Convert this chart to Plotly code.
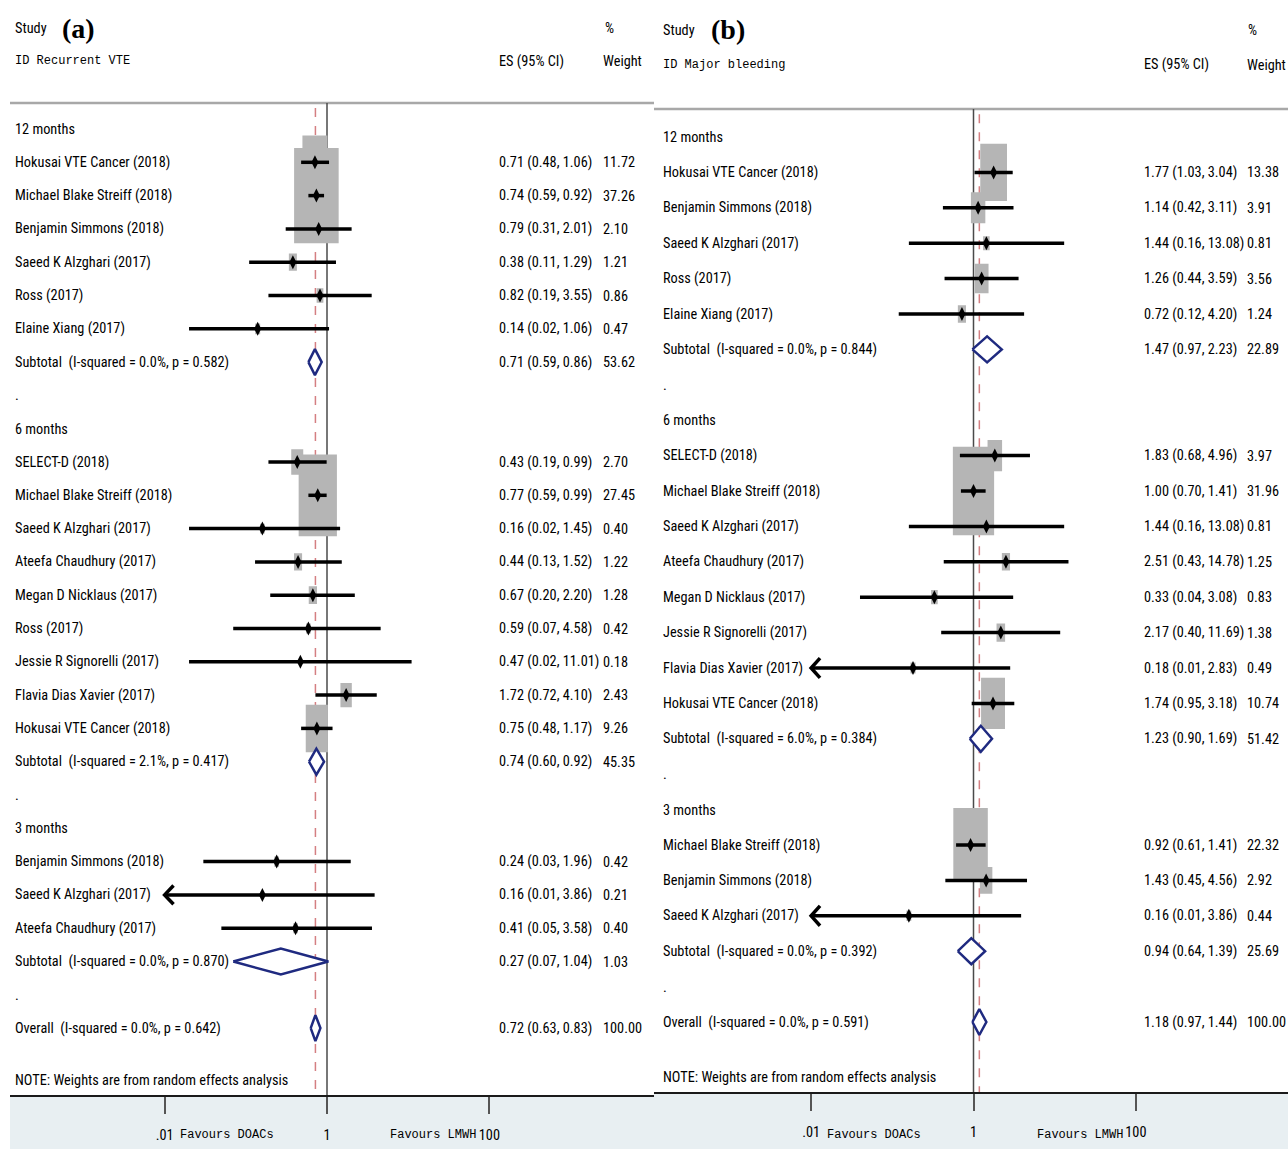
import math
import plotly.graph_objects as go

# ---------------- DATA : panel (a) Recurrent VTE ----------------
A_groups = ["12 months", "6 months", "3 months"]
A_group_of = [0, 0, 0, 0, 0, 0,
              1, 1, 1, 1, 1, 1, 1, 1, 1,
              2, 2, 2]
A_study = ["Hokusai VTE Cancer (2018)", "Michael Blake Streiff (2018)", "Benjamin Simmons (2018)",
           "Saeed K Alzghari (2017)", "Ross (2017)", "Elaine Xiang (2017)",
           "SELECT-D (2018)", "Michael Blake Streiff (2018)", "Saeed K Alzghari (2017)",
           "Ateefa Chaudhury (2017)", "Megan D Nicklaus (2017)", "Ross (2017)",
           "Jessie R Signorelli (2017)", "Flavia Dias Xavier (2017)", "Hokusai VTE Cancer (2018)",
           "Benjamin Simmons (2018)", "Saeed K Alzghari (2017)", "Ateefa Chaudhury (2017)"]
A_es = [0.71, 0.74, 0.79, 0.38, 0.82, 0.14,
        0.43, 0.77, 0.16, 0.44, 0.67, 0.59, 0.47, 1.72, 0.75,
        0.24, 0.16, 0.41]
A_lci = [0.48, 0.59, 0.31, 0.11, 0.19, 0.02,
         0.19, 0.59, 0.02, 0.13, 0.20, 0.07, 0.02, 0.72, 0.48,
         0.03, 0.01, 0.05]
A_uci = [1.06, 0.92, 2.01, 1.29, 3.55, 1.06,
         0.99, 0.99, 1.45, 1.52, 2.20, 4.58, 11.01, 4.10, 1.17,
         1.96, 3.86, 3.58]
A_wt = [11.72, 37.26, 2.10, 1.21, 0.86, 0.47,
        2.70, 27.45, 0.40, 1.22, 1.28, 0.42, 0.18, 2.43, 9.26,
        0.42, 0.21, 0.40]
A_sub_es = [0.71, 0.74, 0.27]
A_sub_lci = [0.59, 0.60, 0.07]
A_sub_uci = [0.86, 0.92, 1.04]
A_sub_wt = [53.62, 45.35, 1.03]
A_sub_i2 = [0.0, 2.1, 0.0]
A_sub_p = [0.582, 0.417, 0.870]
A_overall = [0.72, 0.63, 0.83, 100.00]   # es, lci, uci, weight
A_overall_i2, A_overall_p = 0.0, 0.642

# ---------------- DATA : panel (b) Major bleeding ----------------
B_groups = ["12 months", "6 months", "3 months"]
B_group_of = [0, 0, 0, 0, 0,
              1, 1, 1, 1, 1, 1, 1, 1,
              2, 2, 2]
B_study = ["Hokusai VTE Cancer (2018)", "Benjamin Simmons (2018)", "Saeed K Alzghari (2017)",
           "Ross (2017)", "Elaine Xiang (2017)",
           "SELECT-D (2018)", "Michael Blake Streiff (2018)", "Saeed K Alzghari (2017)",
           "Ateefa Chaudhury (2017)", "Megan D Nicklaus (2017)", "Jessie R Signorelli (2017)",
           "Flavia Dias Xavier (2017)", "Hokusai VTE Cancer (2018)",
           "Michael Blake Streiff (2018)", "Benjamin Simmons (2018)", "Saeed K Alzghari (2017)"]
B_es = [1.77, 1.14, 1.44, 1.26, 0.72,
        1.83, 1.00, 1.44, 2.51, 0.33, 2.17, 0.18, 1.74,
        0.92, 1.43, 0.16]
B_lci = [1.03, 0.42, 0.16, 0.44, 0.12,
         0.68, 0.70, 0.16, 0.43, 0.04, 0.40, 0.01, 0.95,
         0.61, 0.45, 0.01]
B_uci = [3.04, 3.11, 13.08, 3.59, 4.20,
         4.96, 1.41, 13.08, 14.78, 3.08, 11.69, 2.83, 3.18,
         1.41, 4.56, 3.86]
B_wt = [13.38, 3.91, 0.81, 3.56, 1.24,
        3.97, 31.96, 0.81, 1.25, 0.83, 1.38, 0.49, 10.74,
        22.32, 2.92, 0.44]
B_sub_es = [1.47, 1.23, 0.94]
B_sub_lci = [0.97, 0.90, 0.64]
B_sub_uci = [2.23, 1.69, 1.39]
B_sub_wt = [22.89, 51.42, 25.69]
B_sub_i2 = [0.0, 6.0, 0.0]
B_sub_p = [0.844, 0.384, 0.392]
B_overall = [1.18, 0.97, 1.44, 100.00]
B_overall_i2, B_overall_p = 0.0, 0.591

TICK_VALS = [0.01, 1, 100]
TICK_TEXT = [".01", "1", "100"]
X_MIN = 0.01

# ---------------- STYLE / LAYOUT ----------------
W, H = 1288, 1149
NARROW = "Liberation Sans Narrow, Arial Narrow, Roboto Condensed, Liberation Sans, Arial, sans-serif"
MONO = "Liberation Mono, Courier New, DejaVu Sans Mono, monospace"
SERIF = "Liberation Serif, Times New Roman, serif"
FS = 14.3
BOX_K = 7.3        # px per sqrt(weight)
BOX_RATIO = 2.14   # box height / width
GRAY = "#b5b5b5"
NAVY = "#1f2a80"


def P(px):
    return px / W


def Q(py):
    return 1 - py / H


panels = [
    dict(xa="x", ya="y", xaxis="xaxis", yaxis="yaxis", null_px=327.0, dec_px=81.2, row0=129.0, rowpx=33.3,
         left=10.0, right=654.0, axis_py=1095.0, hline_py=103.0, name_px=13.0, es_px=497.0, wt_px=601.0,
         pct_px=603.0, letter="(a)", letter_px=60.0, outcome="ID Recurrent VTE",
         groups=A_groups, group_of=A_group_of, study=A_study, es=A_es, lci=A_lci, uci=A_uci, wt=A_wt,
         sub_es=A_sub_es, sub_lci=A_sub_lci, sub_uci=A_sub_uci, sub_wt=A_sub_wt, sub_i2=A_sub_i2, sub_p=A_sub_p,
         overall=A_overall, ov_i2=A_overall_i2, ov_p=A_overall_p),
    dict(xa="x2", ya="y2", xaxis="xaxis2", yaxis="yaxis2", null_px=973.5, dec_px=81.2, row0=137.0, rowpx=35.4,
         left=654.0, right=1288.0, axis_py=1092.0, hline_py=109.0, name_px=661.0, es_px=1142.0, wt_px=1245.0,
         pct_px=1246.0, letter="(b)", letter_px=709.0, outcome="ID Major bleeding",
         groups=B_groups, group_of=B_group_of, study=B_study, es=B_es, lci=B_lci, uci=B_uci, wt=B_wt,
         sub_es=B_sub_es, sub_lci=B_sub_lci, sub_uci=B_sub_uci, sub_wt=B_sub_wt, sub_i2=B_sub_i2, sub_p=B_sub_p,
         overall=B_overall, ov_i2=B_overall_i2, ov_p=B_overall_p),
]

fig = go.Figure()
annotations = []
shapes = []
layout_axes = {}


def ann(text, px, row, ya, size=FS, family=NARROW, xanchor="left", bold=False):
    annotations.append(dict(text=("<b>%s</b>" % text) if bold else text, x=P(px), xref="paper",
                            y=row, yref=ya, xanchor=xanchor, yanchor="middle", showarrow=False,
                            font=dict(family=family, size=size, color="black")))


for pn in panels:
    xa, ya = pn["xa"], pn["ya"]
    rowpx = pn["rowpx"]
    to_row = lambda py, pn=pn: (py - pn["row0"]) / pn["rowpx"]
    y_bottom = to_row(pn["axis_py"])
    y_top = to_row(0)
    hdr_row = to_row(pn["hline_py"])

    # ---- build row structure ----
    row = 0
    study_rows = [None] * len(pn["study"])
    sub_rows = []
    for g, gname in enumerate(pn["groups"]):
        ann(gname, pn["name_px"], row, ya)
        row += 1
        for i, gi in enumerate(pn["group_of"]):
            if gi == g:
                study_rows[i] = row
                row += 1
        sub_rows.append(row)
        row += 1
        ann(".", pn["name_px"], row, ya)
        row += 1
    ov_row = row

    # ---- reference lines ----
    fig.add_trace(go.Scatter(x=[1, 1], y=[hdr_row, y_bottom], mode="lines",
                             line=dict(color="#4a4a4a", width=1.5), xaxis=xa, yaxis=ya,
                             hoverinfo="skip", showlegend=False))
    ov_es, ov_l, ov_u, ov_w = pn["overall"]
    fig.add_trace(go.Scatter(x=[ov_es, ov_es], y=[hdr_row + 0.15, y_bottom], mode="lines",
                             line=dict(color="#d47f82", width=1.5, dash="dash"), xaxis=xa, yaxis=ya,
                             hoverinfo="skip", showlegend=False))

    # ---- weight boxes ----
    bx, by = [], []
    for i in range(len(pn["study"])):
        wpx = BOX_K * math.sqrt(pn["wt"][i])
        hd = wpx / 2 / pn["dec_px"]
        hr = BOX_RATIO * wpx / 2 / rowpx
        e, r = pn["es"][i], study_rows[i]
        x0, x1 = e * 10 ** (-hd), e * 10 ** hd
        bx += [x0, x1, x1, x0, x0, None]
        by += [r - hr, r - hr, r + hr, r + hr, r - hr, None]
    fig.add_trace(go.Scatter(x=bx, y=by, mode="lines", fill="toself", fillcolor=GRAY,
                             line=dict(width=0, color=GRAY), xaxis=xa, yaxis=ya,
                             hoverinfo="skip", showlegend=False))

    # ---- CI lines and arrows ----
    lx, ly, ax_, ay_ = [], [], [], []
    for i in range(len(pn["study"])):
        r = study_rows[i]
        lo = max(pn["lci"][i], X_MIN)
        lx += [lo, pn["uci"][i], None]
        ly += [r, r, None]
        if pn["lci"][i] <= X_MIN:
            ax_ += [X_MIN * 10 ** 0.11, X_MIN, X_MIN * 10 ** 0.11, None]
            ay_ += [r - 0.28, r, r + 0.28, None]
    fig.add_trace(go.Scatter(x=lx, y=ly, mode="lines", line=dict(color="black", width=3.5),
                             xaxis=xa, yaxis=ya, hoverinfo="skip", showlegend=False))
    if ax_:
        fig.add_trace(go.Scatter(x=ax_, y=ay_, mode="lines", line=dict(color="black", width=3.5),
                                 xaxis=xa, yaxis=ya, hoverinfo="skip", showlegend=False))

    # ---- point estimates ----
    fig.add_trace(go.Scatter(x=pn["es"], y=study_rows, mode="markers",
                             marker=dict(symbol="diamond-tall", size=10, color="black"),
                             xaxis=xa, yaxis=ya, hoverinfo="skip", showlegend=False))

    # ---- pooled diamonds ----
    dh = 13.0 / rowpx
    dx, dy = [], []
    pooled = [(pn["sub_es"][g], pn["sub_lci"][g], pn["sub_uci"][g], sub_rows[g]) for g in range(len(sub_rows))]
    pooled.append((ov_es, ov_l, ov_u, ov_row))
    for e, lo, hi, r in pooled:
        dx += [lo, e, hi, e, lo, None]
        dy += [r, r - dh, r, r + dh, r, None]
    fig.add_trace(go.Scatter(x=dx, y=dy, mode="lines", fill="toself", fillcolor="white",
                             line=dict(color=NAVY, width=2.5), xaxis=xa, yaxis=ya,
                             hoverinfo="skip", showlegend=False))

    # ---- text columns ----
    fmt = lambda e, lo, hi: "%.2f (%.2f, %.2f)" % (e, lo, hi)
    for i in range(len(pn["study"])):
        r = study_rows[i]
        ann(pn["study"][i], pn["name_px"], r, ya)
        ann(fmt(pn["es"][i], pn["lci"][i], pn["uci"][i]), pn["es_px"], r, ya)
        ann("%.2f" % pn["wt"][i], pn["wt_px"], r, ya)
    for g in range(len(sub_rows)):
        r = sub_rows[g]
        ann("Subtotal\u00a0 (I-squared = %.1f%%, p = %.3f)" % (pn["sub_i2"][g], pn["sub_p"][g]), pn["name_px"], r, ya)
        ann(fmt(pn["sub_es"][g], pn["sub_lci"][g], pn["sub_uci"][g]), pn["es_px"], r, ya)
        ann("%.2f" % pn["sub_wt"][g], pn["wt_px"], r, ya)
    ann("Overall\u00a0 (I-squared = %.1f%%, p = %.3f)" % (pn["ov_i2"], pn["ov_p"]), pn["name_px"], ov_row, ya)
    ann(fmt(ov_es, ov_l, ov_u), pn["es_px"], ov_row, ya)
    ann("%.2f" % ov_w, pn["wt_px"], ov_row, ya)
    ann("NOTE: Weights are from random effects analysis", pn["name_px"], ov_row + 1.55, ya)

    # ---- headers ----
    ann("Study", pn["name_px"], -3.03, ya)
    ann(pn["letter"], pn["letter_px"], -3.03, ya, size=28, family=SERIF, bold=True)
    ann(pn["outcome"], pn["name_px"], -2.04, ya, size=12, family=MONO)
    ann("ES (95% CI)", pn["es_px"], -2.04, ya)
    ann("%", pn["pct_px"], -3.03, ya)
    ann("Weight", pn["wt_px"], -2.04, ya)

    # ---- bottom labels ----
    for txt, off in (("Favours DOACs", -100.0), ("Favours LMWH", 106.0)):
        annotations.append(dict(text=txt, x=P(pn["null_px"] + off), xref="paper",
                                y=Q(1135), yref="paper", xanchor="center", yanchor="middle",
                                showarrow=False, font=dict(family=MONO, size=12, color="black")))

    # ---- shapes: header rule and shaded band ----
    shapes.append(dict(type="line", xref="paper", yref=ya, x0=P(pn["left"]), x1=P(pn["right"]),
                       y0=hdr_row, y1=hdr_row, line=dict(color="#a8a8a8", width=2.5), layer="below"))
    shapes.append(dict(type="rect", xref="paper", yref="paper", x0=P(pn["left"]), x1=P(pn["right"]),
                       y0=0, y1=Q(pn["axis_py"]), fillcolor="#e8eff2", line=dict(width=0), layer="below"))

    # ---- axes ----
    lo_log = (pn["left"] - pn["null_px"]) / pn["dec_px"]
    hi_log = (pn["right"] - pn["null_px"]) / pn["dec_px"]
    layout_axes[pn["xaxis"]] = dict(domain=[P(pn["left"]), P(pn["right"])], type="log",
                                    range=[lo_log, hi_log], anchor=ya, showgrid=False, zeroline=False,
                                    showline=True, linecolor="#1a1a1a", linewidth=2,
                                    ticks="outside", ticklen=17, tickwidth=1.5, tickcolor="#555555",
                                    tickvals=TICK_VALS, ticktext=TICK_TEXT, ticklabelstandoff=9,
                                    tickfont=dict(family=NARROW, size=FS, color="black"))
    layout_axes[pn["yaxis"]] = dict(domain=[Q(pn["axis_py"]), 1], range=[y_bottom, y_top],
                                    anchor=xa, visible=False, showgrid=False, zeroline=False)

fig.update_layout(width=W, height=H, margin=dict(l=0, r=0, t=0, b=0),
                  paper_bgcolor="white", plot_bgcolor="rgba(0,0,0,0)",
                  annotations=annotations, shapes=shapes, showlegend=False, **layout_axes)

fig.write_html("out.html", config={"displayModeBar": False},
               post_script="document.body.style.margin='0';document.body.style.overflow='hidden';")
